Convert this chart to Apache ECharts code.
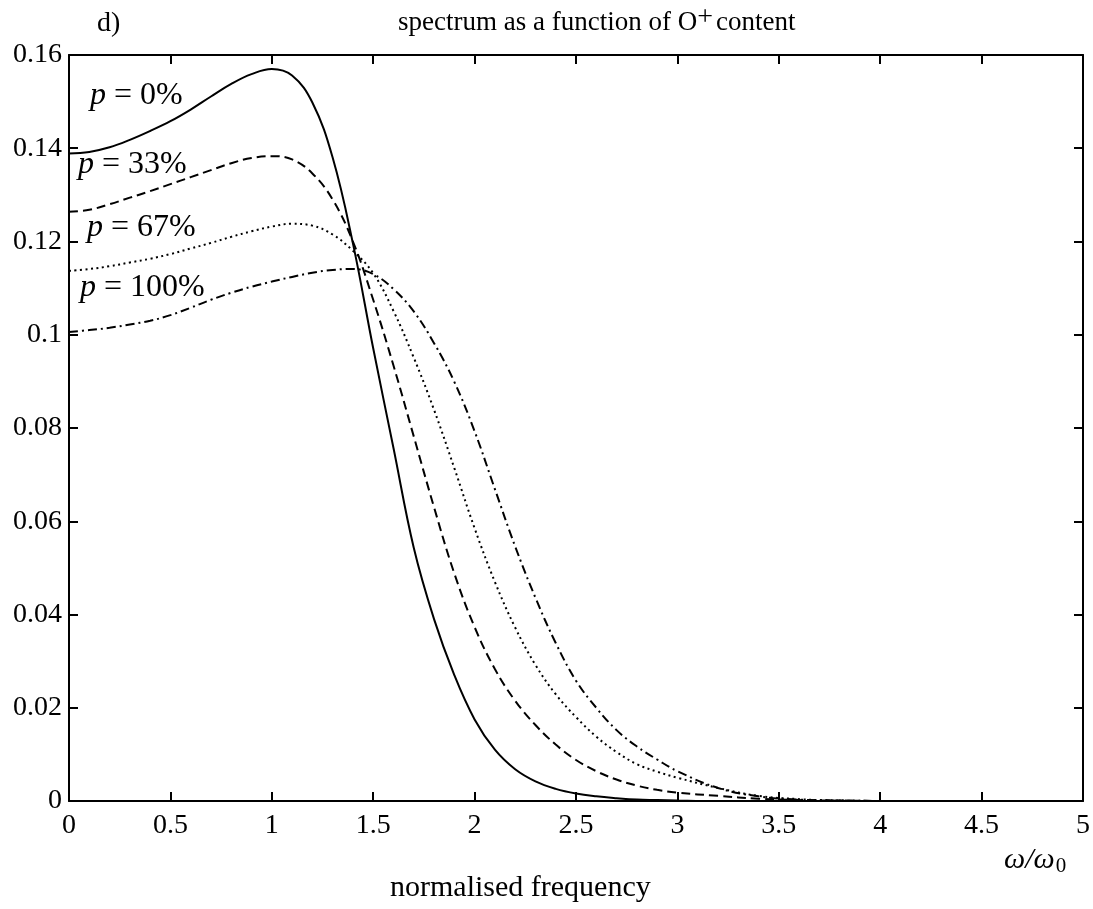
<!DOCTYPE html>
<html>
<head>
<meta charset="utf-8">
<title>spectrum as a function of O+ content</title>
<script src="https://cdn.jsdelivr.net/npm/echarts@6/dist/echarts.min.js"></script>
<style>
  html, body { margin: 0; padding: 0; background: #fff; }
  #chart { width: 1093px; height: 909px; }
</style>
</head>
<body>
<div id="chart"></div>
<script>
// normalised frequency samples (ω/ω0)
const freq = [0, 0.1, 0.2, 0.3, 0.4, 0.5, 0.6, 0.7, 0.8, 0.9,
              1.0, 1.1, 1.2, 1.3, 1.4, 1.5, 1.6, 1.7, 1.8, 1.9,
              2.0, 2.1, 2.2, 2.3, 2.4, 2.5, 2.6, 2.7, 2.8, 2.9,
              3.0, 3.2, 3.4, 3.6, 3.8, 4.0];

// spectra for each O+ fraction p
const p0 = [0.1389, 0.1392, 0.1402, 0.1418, 0.1437, 0.1458, 0.1483, 0.1511, 0.1538, 0.1559,
            0.1570, 0.1556, 0.1498, 0.1380, 0.1196, 0.0971, 0.0757, 0.0543, 0.0390, 0.0270,
            0.0175, 0.0110, 0.0068, 0.0042, 0.0026, 0.0016, 0.0010, 0.0006, 0.0003, 0.0002,
            0.0001, 0, 0, 0, 0, 0];
const p33 = [0.1264, 0.1268, 0.1280, 0.1294, 0.1308, 0.1323, 0.1338, 0.1353, 0.1368, 0.1379,
             0.1383, 0.1376, 0.1346, 0.1290, 0.1200, 0.1075, 0.0934, 0.0782, 0.0630, 0.0488,
             0.0373, 0.0283, 0.0215, 0.0163, 0.0121, 0.0088, 0.0064, 0.0046, 0.0033, 0.0024,
             0.0018, 0.0011, 0.0005, 0.0002, 0.0001, 0];
const p67 = [0.1137, 0.1141, 0.1147, 0.1155, 0.1163, 0.1173, 0.1185, 0.1197, 0.1210, 0.1222,
             0.1232, 0.1238, 0.1234, 0.1215, 0.1180, 0.1132, 0.1051, 0.0951, 0.0839, 0.0714,
             0.0585, 0.0470, 0.0372, 0.0292, 0.0229, 0.0180, 0.0138, 0.0105, 0.0079, 0.0063,
             0.0050, 0.0028, 0.0011, 0.0004, 0.0001, 0];
const p100 = [0.1006, 0.1010, 0.1015, 0.1022, 0.1030, 0.1042, 0.1058, 0.1075, 0.1090, 0.1103,
              0.1114, 0.1124, 0.1133, 0.1139, 0.1141, 0.1130, 0.1098, 0.1050, 0.0982, 0.0899,
              0.0793, 0.0669, 0.0546, 0.0436, 0.0339, 0.0258, 0.0200, 0.0152, 0.0117, 0.0089,
              0.0064, 0.0028, 0.0010, 0.0003, 0.0001, 0];

const seriesNames = ['p = 0%', 'p = 33%', 'p = 67%', 'p = 100%'];
const seriesValues = [p0, p33, p67, p100];
const dashStyles = ['solid', [9, 5], [2, 3.5], [9, 4, 2, 4]];

const serif = '"Liberation Serif", "DejaVu Serif", serif';

function pairs(ys) { return freq.map((x, i) => [x, ys[i]]); }

const chart = echarts.init(document.getElementById('chart'));

const axisCommon = {
  axisLine: { show: true, onZero: false, lineStyle: { color: '#000', width: 2 } },
  axisTick: { show: true, inside: true, length: 9, lineStyle: { color: '#000', width: 2 } },
  splitLine: { show: false }
};

// curve annotation: italic p followed by the percentage
function pLabel(text, x, y) {
  return {
    type: 'text', x: x, y: y,
    style: {
      text: '{i|p} = ' + text, font: '32px ' + serif, fill: '#000', verticalAlign: 'middle',
      rich: { i: { font: 'italic 32px ' + serif, fill: '#000' } }
    }
  };
}

chart.setOption({
  animation: false,
  backgroundColor: '#fff',
  grid: { left: 69, right: 9, top: 55, bottom: 108, containLabel: false },
  xAxis: [
    Object.assign({
      type: 'value', min: 0, max: 5, interval: 0.5, position: 'bottom',
      axisLabel: { color: '#000', fontFamily: serif, fontSize: 28, margin: 11 }
    }, axisCommon),
    Object.assign({
      type: 'value', min: 0, max: 5, interval: 0.5, position: 'top',
      axisLabel: { show: false }
    }, axisCommon)
  ],
  yAxis: [
    Object.assign({
      type: 'value', min: 0, max: 0.16, interval: 0.02, position: 'left',
      axisLabel: { color: '#000', fontFamily: serif, fontSize: 28, margin: 7 }
    }, axisCommon),
    Object.assign({
      type: 'value', min: 0, max: 0.16, interval: 0.02, position: 'right',
      axisLabel: { show: false }
    }, axisCommon)
  ],
  series: seriesValues.map((ys, k) => ({
    name: seriesNames[k],
    type: 'line',
    data: pairs(ys),
    smooth: 0.4,
    showSymbol: false,
    symbol: 'none',
    lineStyle: { color: '#000', width: 2, type: dashStyles[k] },
    z: 3
  })),
  graphic: [
    {
      type: 'text', x: 97, y: 24,
      style: { text: 'd)', font: '28px ' + serif, fill: '#000', verticalAlign: 'middle' }
    },
    {
      type: 'text', x: 398, y: 23,
      style: {
        text: 'spectrum as a function of O{sup|+}content',
        font: '27px ' + serif, fill: '#000', verticalAlign: 'middle',
        rich: { sup: { font: '28px ' + serif, fill: '#000', verticalAlign: 'top', padding: [0, 3, 10, 0] } }
      }
    },
    pLabel('0%', 90, 96),
    pLabel('33%', 78, 165),
    pLabel('67%', 87, 228),
    pLabel('100%', 80, 288),
    {
      type: 'text', x: 1004, y: 860,
      style: { text: '{i|ω/ω}{s|0}', font: 'italic 30px ' + serif, fill: '#000', verticalAlign: 'middle',
               rich: { i: { font: 'italic 30px ' + serif, fill: '#000' },
                       s: { font: '21px ' + serif, fill: '#000', verticalAlign: 'bottom', padding: [13, 0, 0, 1] } } }
    },
    {
      type: 'text', x: 390, y: 888,
      style: { text: 'normalised frequency', font: '30px ' + serif, fill: '#000', verticalAlign: 'middle' }
    }
  ]
});
</script>
</body>
</html>
